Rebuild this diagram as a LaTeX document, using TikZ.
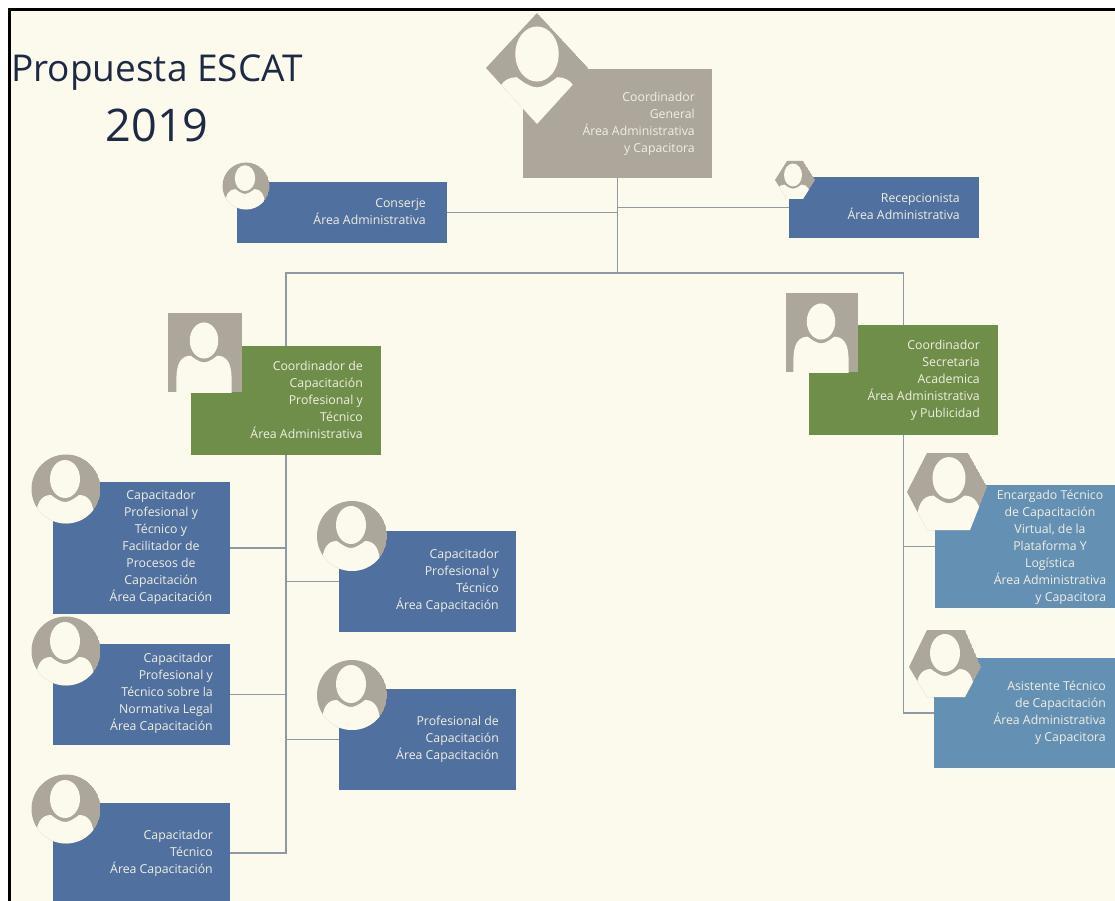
\documentclass[tikz,border=0pt]{standalone}
\usepackage{fontspec}
\setmainfont{Open Sans}
\definecolor{bg}{HTML}{FCF9ED}
\definecolor{stone}{HTML}{ADA79B}
\definecolor{bluebox}{HTML}{50709F}
\definecolor{skybox}{HTML}{6490B4}
\definecolor{greenbox}{HTML}{6F8E4A}
\definecolor{wire}{HTML}{8D99A3}
\definecolor{ink}{HTML}{1E2A44}
\definecolor{lab}{HTML}{F1EFE2}
\tikzset{
  wireline/.style={draw=wire,line width=1.4pt},
  lab/.style={text=lab,font=\fontsize{12.3}{17}\selectfont,inner sep=0pt},
  labr/.style={lab,align=right,anchor=east},
  labc/.style={lab,align=center,anchor=center},
  titletext/.style={text=ink,inner sep=0pt}
}
% clip shape, anchor x, anchor y, scale
\newcommand{\avatarshape}[4]{%
  \begin{scope}
    \clip #1;
    \fill[stone] #1;
    \begin{scope}[shift={(#2,#3)},scale=#4]
      \fill[bg] (0,-10) ellipse [x radius=15,y radius=19];
      \fill[bg] (-29,30) .. controls (-29,14) and (-24,6) .. (-14,6)
        .. controls (-9,10) and (-4,13) .. (0,13)
        .. controls (4,13) and (9,10) .. (14,6)
        .. controls (24,6) and (29,14) .. (29,30) -- (29,80) -- (-29,80) -- cycle;
    \end{scope}
  \end{scope}}
\newcommand{\orgrect}[6]{% name,x1,y1,x2,y2,colour
  \path (#2,#3) -- (#4,#5) node[midway,fill=#6,inner sep=0pt,
    minimum width=#4pt-#2pt,minimum height=#5pt-#3pt] (#1) {};}
\begin{document}
\begin{tikzpicture}[x=1pt,y=-1pt]
\useasboundingbox (0,0) rectangle (1115,901);
\clip (0,0) rectangle (1115,901);
\fill[white] (0,0) rectangle (1115,901);
\fill[bg] (9,10) rectangle (1115,901);
\draw[black,line width=3pt] (9,901) -- (9,10) -- (1115,10);

\orgrect{gen}{523}{69}{712}{178}{stone}
\orgrect{con}{237}{182}{447}{243}{bluebox}
\orgrect{rec}{789}{177}{979}{238}{bluebox}
\orgrect{gl}{191}{346}{381}{455}{greenbox}
\orgrect{gr}{809}{325}{998}{435}{greenbox}
\orgrect{la}{53}{482}{230}{614}{bluebox}
\orgrect{lb}{53}{644}{230}{745}{bluebox}
\orgrect{lc}{53}{803}{230}{903}{bluebox}
\orgrect{ma}{339}{531}{516}{632}{bluebox}
\orgrect{mb}{339}{689}{516}{790}{bluebox}
\orgrect{ra}{935}{485}{1115}{608}{skybox}
\orgrect{rb}{934}{658}{1115}{768}{skybox}

\coordinate (bus) at (gen.south |- 0,273);
\draw[wireline] (gen.south) -- (bus);
\draw[wireline] (gl.north) |- (bus);
\draw[wireline] (gr.north) |- (bus);
\draw[wireline] (con.east) -- (con.east -| gen.south);
\draw[wireline] (rec.west) -- (rec.west -| gen.south);
\draw[wireline] (gl.south) |- (lc.east);
\draw[wireline] (la.east) -- (la.east -| gl.south);
\draw[wireline] (lb.east) -- (lb.east -| gl.south);
\draw[wireline] (ma.west) -- (ma.west -| gl.south);
\draw[wireline] (mb.west) -- (mb.west -| gl.south);
\draw[wireline] (gr.south) |- (rb.west);
\draw[wireline] (ra.west) -- (ra.west -| gr.south);

\avatarshape{(537,13) -- (588,68) -- (537,124) -- (486,68) -- cycle}{537}{68.5}{1.45}
\avatarshape{(246,186) circle (23.5)}{245}{185}{0.68}
\avatarshape{(787,161) -- (803,161) -- (815,180) -- (803,199) -- (787,199) -- (775,180) -- cycle}{793}{181}{0.6}
\avatarshape{(168,313) rectangle (242,392)}{204}{350}{0.95}
\avatarshape{(786,293) rectangle (858,372)}{821}{331}{0.95}
\avatarshape{(66,489) circle (34.5)}{65}{489}{1}
\avatarshape{(66,651) circle (34.5)}{65}{651}{1}
\avatarshape{(66,809) circle (34.5)}{65}{809}{1}
\avatarshape{(352,536) circle (35)}{351}{535}{1}
\avatarshape{(352,695) circle (35)}{351}{694}{1}
\avatarshape{(927,453) -- (968,453) -- (987,487) -- (970,530) -- (927,530) -- (907,492) -- cycle}{949}{489}{1.1}
\avatarshape{(927,630) -- (965,630) -- (981,667) -- (965,697) -- (927,697) -- (909,667) -- cycle}{945}{663}{1}

\node[titletext,anchor=base west,font=\fontsize{37}{44}\selectfont] (title) at (11,82) {Propuesta ESCAT};
\node[titletext,anchor=base,font=\fontsize{45}{52}\selectfont] (year) at (157,142) {2019};

\node[labr] (tgen) at (695,124) {Coordinador\\General\\Área Administrativa\\y Capacitora};
\node[labr] (tcon) at (426,212) {Conserje\\Área Administrativa};
\node[labr] (trec) at (960,207) {Recepcionista\\Área Administrativa};
\node[labr] (tgl) at (363,400) {Coordinador de\\Capacitación\\Profesional y\\Técnico\\Área Administrativa};
\node[labr] (tgr) at (980,380) {Coordinador\\Secretaria\\Academica\\Área Administrativa\\y Publicidad};
\node[labc] (tla) at (161,547) {Capacitador\\Profesional y\\Técnico y\\Facilitador de\\Procesos de\\Capacitación\\Área Capacitación};
\node[labr] (tlb) at (213,693) {Capacitador\\Profesional y\\Técnico sobre la\\Normativa Legal\\Área Capacitación};
\node[labr] (tlc) at (213,853) {Capacitador\\Técnico\\Área Capacitación};
\node[labr] (tma) at (499,581) {Capacitador\\Profesional y\\Técnico\\Área Capacitación};
\node[labr] (tmb) at (499,739) {Profesional de\\Capacitación\\Área Capacitación};
\node[labc] (tra) at (1050,547) {Encargado Técnico\\de Capacitación\\Virtual, de la\\Plataforma Y\\Logística\\Área Administrativa\\\hfill y Capacitora};
\node[labr] (trb) at (1106,713) {Asistente Técnico\\de Capacitación\\Área Administrativa\\y Capacitora};
\end{tikzpicture}
\end{document}
